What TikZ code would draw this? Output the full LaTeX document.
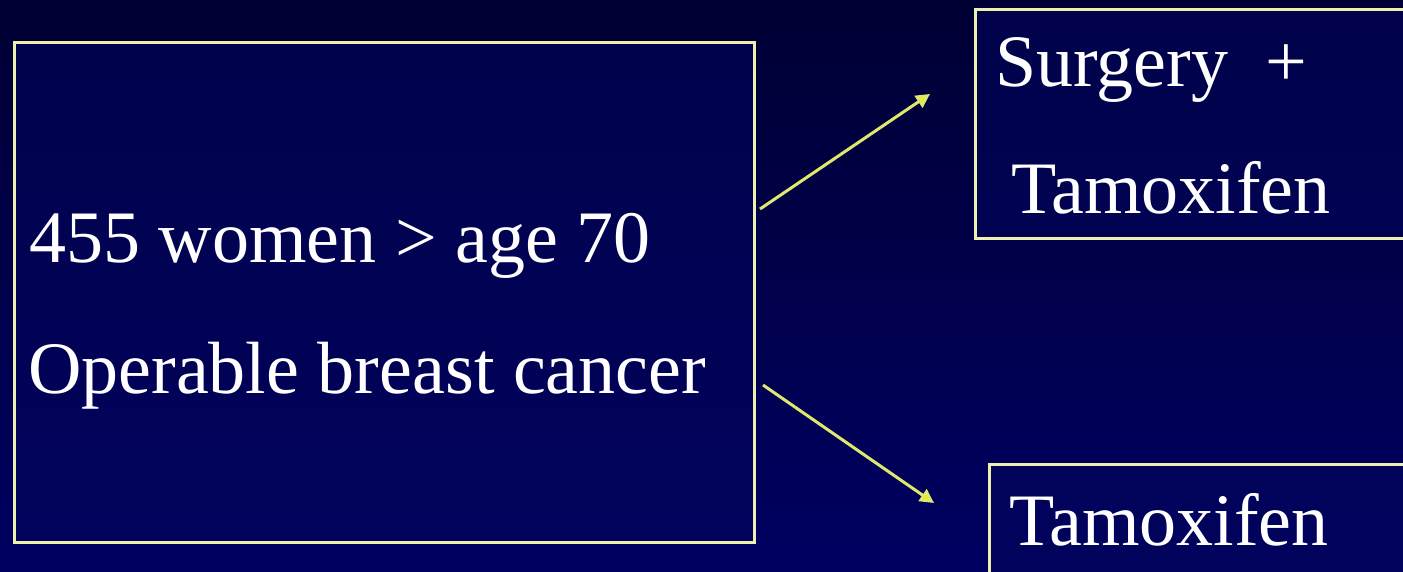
\documentclass[tikz,border=0pt]{standalone}
\usepackage{fontspec}
\setmainfont{Liberation Serif}
\usetikzlibrary{arrows.meta}
\definecolor{bgtop}{RGB}{0,0,52}
\definecolor{bgbot}{RGB}{0,0,98}
\definecolor{boxfill}{RGB}{2,4,90}
\definecolor{frame}{RGB}{238,240,176}
\definecolor{arrowline}{RGB}{222,232,110}
\definecolor{arrowtip}{RGB}{232,240,20}
\tikzset{
  panel/.style={draw=frame, line width=3pt, fill=boxfill, fill opacity=0.6, draw opacity=1, rectangle, inner sep=0pt},
  label/.style={text=white, anchor=base west, inner sep=0pt, font=\fontsize{74}{80}\selectfont},
  flow/.style={draw=arrowline, line width=3pt, -{Triangle[length=14pt,width=14pt,fill=arrowtip]}}
}
\begin{document}
\begin{tikzpicture}[x=1pt,y=-1pt]
\useasboundingbox (0,0) rectangle (1403,571);
\shade[top color=bgtop, bottom color=bgbot] (0,0) rectangle (1403,571);
\begin{scope}
\clip (0,0) rectangle (1403,571);
\node[panel, minimum width=740pt, minimum height=500pt, anchor=north west] (left) at (13,41) {};
\node[panel, minimum width=450pt, minimum height=229pt, anchor=north west] (topright) at (974,8) {};
\node[panel, minimum width=440pt, minimum height=140pt, anchor=north west] (botright) at (988,463) {};
\end{scope}
\node[label] (l1) at (29,262) {455 women > age 70};
\node[label] (l2) at (28,393) {Operable breast cancer};
\node[label] (t1) at (995,86) {Surgery\hspace{0.5em}+};
\node[label] (t2) at (1011,213) {Tamoxifen};
\node[label] (b1) at (1009,545) {Tamoxifen};
\coordinate (s1) at (760,209);
\coordinate (e1) at (930,94);
\coordinate (s2) at (763,385);
\coordinate (e2) at (934,503);
\draw[flow] (s1) -- (e1);
\draw[flow] (s2) -- (e2);
\end{tikzpicture}
\end{document}
